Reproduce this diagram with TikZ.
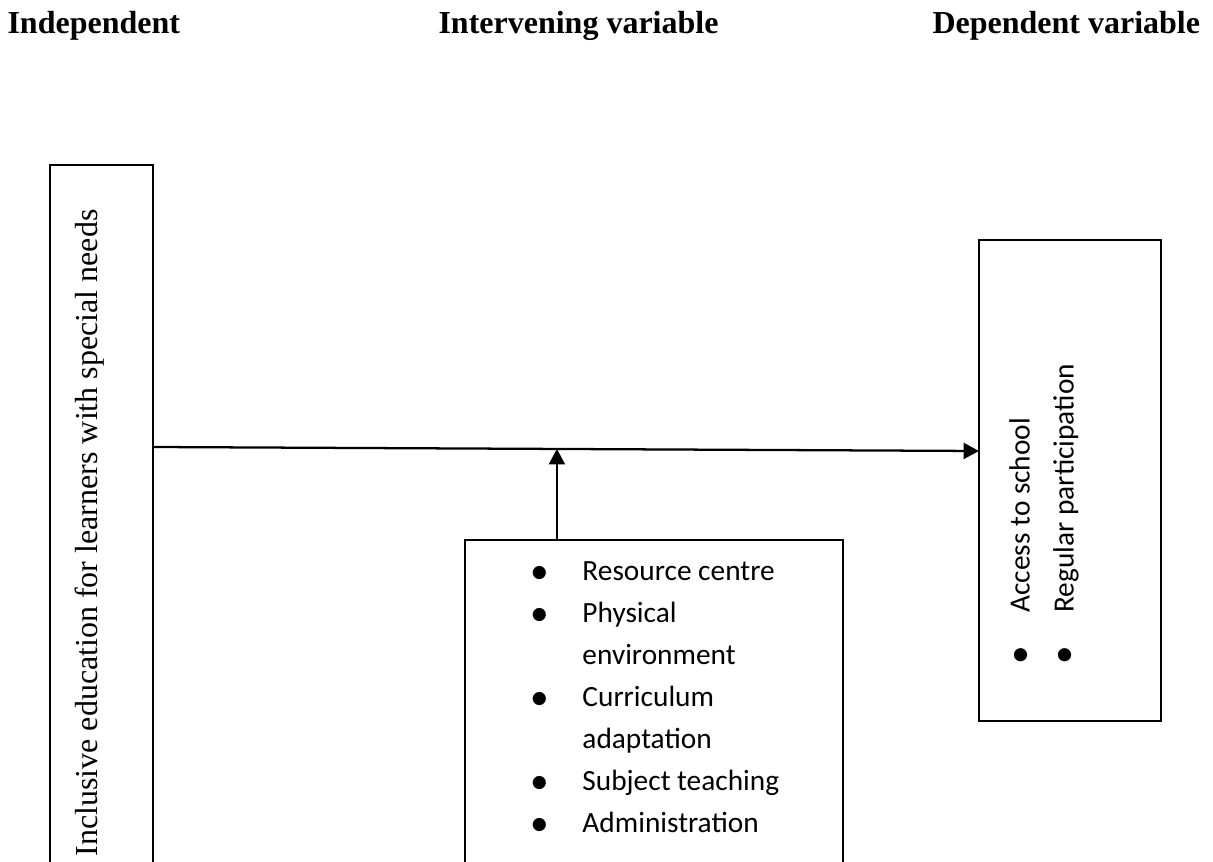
\documentclass[tikz,border=0pt]{standalone}
\usepackage{fontspec}
\setmainfont{Liberation Serif}
\newfontfamily\calibri{Carlito}
\usepackage{tikz}
\usetikzlibrary{arrows.meta,positioning,calc}

\tikzset{
  box/.style={rectangle, draw, line width=0.85pt, inner sep=0pt},
  head/.style={font=\bfseries\fontsize{12}{14}\selectfont, anchor=base west, inner sep=0pt},
  item/.style={font=\calibri\fontsize{11}{13}\selectfont, anchor=base west, inner sep=0pt},
  arr/.style={line width=0.85pt, -{Triangle[width=6pt,length=5.8pt]}}
}
\newcommand{\blt}[1]{\makebox[0pt]{\raisebox{-0.9pt}{\fontsize{14}{14}\selectfont #1}}\hspace{16.1pt}}

\begin{document}
\begin{tikzpicture}[x=0.375pt, y=-0.375pt]
\useasboundingbox (0,0) rectangle (1213,862);
\clip (0,0) rectangle (1213,862);

% headings
\node[head] (hindep) at (7,34) {Independent};
\node[head] (hinter) at (438,34) {Intervening variable};
\node[head] (hdep) at (932,34) {Dependent variable};

% independent box
\node[box, minimum width=38.6pt, minimum height=275.6pt] (indep) at (101.5,532.5) {};
\node[rotate=90, anchor=base east, inner sep=0pt, font=\fontsize{12}{14}\selectfont] (indeptxt) at (98,209) {Inclusive education for learners with special needs};

% intervening box
\node[box, minimum width=141.75pt, minimum height=135pt] (mid) at (654,720) {};
\foreach \b/\t [count=\i] in {•/Resource centre, •/Physical, /environment, •/Curriculum, /adaptation, •/Subject teaching, •/Administration}
  \node[item] (mitem\i) at (539,{581+42*(\i-1)}) {\blt{\b}\t};

% dependent box
\node[box, minimum width=68.25pt, minimum height=180.4pt] (dep) at (1070,480.5) {};
\node[item, rotate=90] (ditem1) at (1029.5,656) {\blt{•}Access to school};
\node[item, rotate=90] (ditem2) at (1073.5,656) {\blt{•}Regular participation};

% arrows
\coordinate (lineL) at (153,447);
\coordinate (lineR) at (979,451);
\coordinate (join) at ($(lineL)!0.489!(lineR)$);
\draw[arr] (lineL) -- (lineR);
\draw[arr] (mid.north -| join) -- (join);

\end{tikzpicture}
\end{document}
